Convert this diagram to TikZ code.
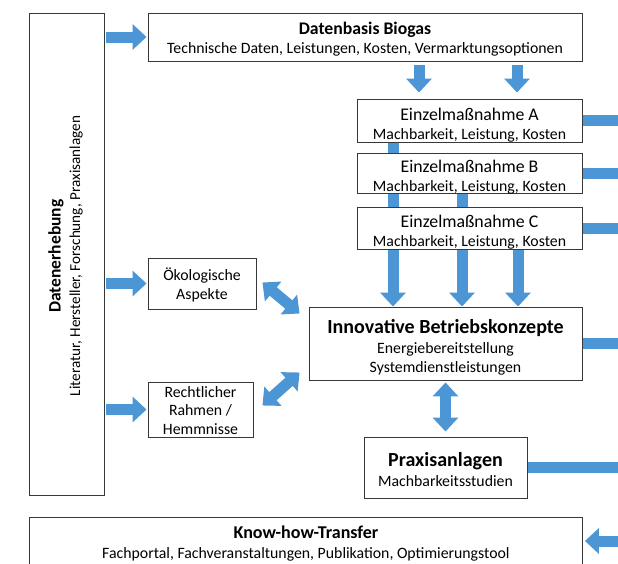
\documentclass[tikz,border=0pt]{standalone}
\usepackage{fontspec}
\setmainfont{Carlito}
\usetikzlibrary{arrows.meta,backgrounds,calc}
\definecolor{arr}{RGB}{77,150,213}
\begin{document}
\begin{tikzpicture}[x=1pt,y=-1pt,
  box/.style={draw=black!78, line width=0.9pt, fill=white, inner sep=0pt},
  txt/.style={align=center, inner sep=0pt, font=\fontsize{15.8}{18.5}\selectfont},
  fat/.style={draw=arr, line width=11pt, -{Triangle[width=25pt,length=14pt]}},
  fatd/.style={draw=arr, line width=11pt, {Triangle[width=25pt,length=14pt]}-{Triangle[width=25pt,length=14pt]}},
  bar/.style={draw=arr, line width=11pt},
]
\useasboundingbox (0,0) rectangle (618,563);

% boxes
\node[box, minimum width=75pt, minimum height=482pt] (de) at (66.5,254) {};
\node[box, minimum width=434pt, minimum height=48pt] (db) at (365,37) {};
\node[box, minimum width=225pt, minimum height=43pt] (eA) at (469.5,120.5) {};
\node[box, minimum width=225pt, minimum height=40pt] (eB) at (469.5,173.5) {};
\node[box, minimum width=225pt, minimum height=42pt] (eC) at (469.5,228) {};
\node[box, minimum width=108pt, minimum height=51pt] (ok) at (202,283.5) {};
\node[box, minimum width=105pt, minimum height=55pt] (re) at (200.5,409.5) {};
\node[box, minimum width=273pt, minimum height=73pt] (in) at (445.5,343.5) {};
\node[box, minimum width=163pt, minimum height=61pt] (pr) at (445.5,467.5) {};
\node[box, minimum width=553pt, minimum height=60pt, anchor=north west] (kh) at (29,517) {};

% texts
\node[txt, rotate=90, font=\fontsize{15.2}{18.5}\selectfont] (deT) at ($(de.center)+(-1,2)$)
  {{\fontsize{17.5}{21}\selectfont\bfseries Datenerhebung}\\[1pt]Literatur, Hersteller, Forschung, Praxisanlagen};
\node[txt] (dbT) at ($(db.center)+(0,2)$)
  {{\fontsize{17.7}{21}\selectfont\bfseries Datenbasis Biogas}\\[1pt]Technische Daten, Leistungen, Kosten, Vermarktungsoptionen};
\node[txt] (eAT) at ($(eA.center)+(0,4.5)$)
  {{\fontsize{17.8}{20}\selectfont Einzelmaßnahme A}\\Machbarkeit, Leistung, Kosten};
\node[txt] (eBT) at ($(eB.center)+(0,3.5)$)
  {{\fontsize{17.8}{20}\selectfont Einzelmaßnahme B}\\Machbarkeit, Leistung, Kosten};
\node[txt] (eCT) at ($(eC.center)+(0,4)$)
  {{\fontsize{17.8}{20}\selectfont Einzelmaßnahme C}\\Machbarkeit, Leistung, Kosten};
\node[txt] (okT) at ($(ok.center)+(0,1.5)$) {Ökologische\\Aspekte};
\node[txt] (reT) at ($(re.center)+(0,1)$) {Rechtlicher\\Rahmen /\\Hemmnisse};
\node[txt] (inT) at ($(in.center)+(0,4)$)
  {{\fontsize{20}{24}\selectfont\bfseries Innovative Betriebskonzepte}\\[1.5pt]Energiebereitstellung\\Systemdienstleistungen};
\node[txt] (prT) at ($(pr.center)+(0,2)$)
  {{\fontsize{20}{24}\selectfont\bfseries Praxisanlagen}\\[1pt]Machbarkeitsstudien};
\node[txt, anchor=north] (khT) at ($(kh.north)+(0,9)$)
  {{\fontsize{18}{21}\selectfont\bfseries Know-how-Transfer}\\[1pt]Fachportal, Fachveranstaltungen, Publikation, Optimierungstool};

% helper coordinates
\coordinate (R) at (625,0);
\coordinate (v1) at (393,0);
\coordinate (v2) at (462,0);
\coordinate (v3) at (518,0);
\coordinate (d1) at (419,0);
\coordinate (d2) at (517,0);
\coordinate (khA) at ($(kh.north east)+(0,24)$);

\begin{pgfonlayer}{background}
  % from Datenerhebung
  \draw[fat, shorten <=2pt, shorten >=1pt] (de.east |- db.west) -- (db.west);
  \draw[fat, shorten <=2pt, shorten >=1pt] (de.east |- ok.west) -- (ok.west);
  \draw[fat, shorten <=2pt, shorten >=1pt] (de.east |- re.west) -- (re.west);
  % Datenbasis to Einzelmassnahmen
  \draw[fat, shorten <=4pt, shorten >=6pt] (d1 |- db.south) -- (d1 |- eA.north);
  \draw[fat, shorten <=4pt, shorten >=6pt] (d2 |- db.south) -- (d2 |- eA.north);
  % Einzelmassnahmen to Innovative
  \draw[fat] (v1 |- eA.south) -- (v1 |- in.north);
  \draw[fat] (v2 |- eB.south) -- (v2 |- in.north);
  \draw[fat] (v3 |- eC.south) -- (v3 |- in.north);
  % double arrows
  \draw[fatd] ($(ok.east)+(6,-1)$) -- ($(in.west)+(-9,-30)$);
  \draw[fatd] ($(re.east)+(9,-4)$) -- ($(in.west)+(-9,29)$);
  \draw[fatd, shorten <=2pt, shorten >=5pt] (in.south) -- (pr.north);
  % stubs to the right
  \draw[bar] (eA.east) -- (eA.east -| R);
  \draw[bar] (eB.east) -- (eB.east -| R);
  \draw[bar] (eC.east) -- (eC.east -| R);
  \draw[bar] (in.east) -- (in.east -| R);
  \draw[bar] (pr.east) -- (pr.east -| R);
  \draw[fat, shorten >=2pt] (khA -| R) -- (khA);
\end{pgfonlayer}
\end{tikzpicture}
\end{document}
